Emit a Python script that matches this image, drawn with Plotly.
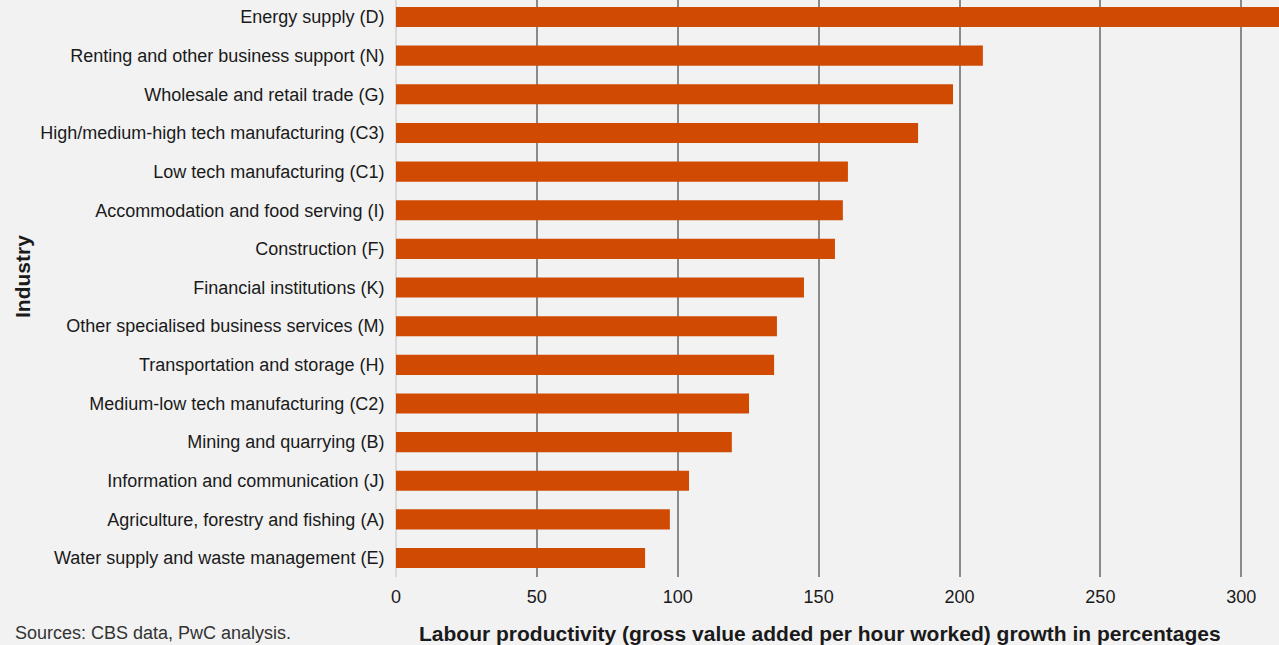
import plotly.graph_objects as go

# Industries, top to bottom
industries = [
    "Energy supply (D)",
    "Renting and other business support (N)",
    "Wholesale and retail trade (G)",
    "High/medium-high tech manufacturing (C3)",
    "Low tech manufacturing (C1)",
    "Accommodation and food serving (I)",
    "Construction (F)",
    "Financial institutions (K)",
    "Other specialised business services (M)",
    "Transportation and storage (H)",
    "Medium-low tech manufacturing (C2)",
    "Mining and quarrying (B)",
    "Information and communication (J)",
    "Agriculture, forestry and fishing (A)",
    "Water supply and waste management (E)",
]

# Labour productivity growth (%)
growth = [330, 208.3, 197.7, 185.3, 160.4, 158.6, 155.8, 144.8,
          135.2, 134.2, 125.3, 119.2, 104.0, 97.2, 88.4]

x_ticks = [0, 50, 100, 150, 200, 250, 300]

BG = "#F2F2F2"
ORANGE = "#D04A02"
TEXT = "#1a1a1a"
FONT = "Liberation Sans, Arial, Helvetica, sans-serif"

fig = go.Figure(
    go.Bar(
        x=growth,
        y=industries,
        orientation="h",
        marker=dict(color=ORANGE, line=dict(width=0)),
        hoverinfo="x+y",
    )
)

fig.update_layout(
    width=1279,
    height=645,
    paper_bgcolor=BG,
    plot_bgcolor=BG,
    margin=dict(l=396, r=0, t=0, b=68),
    bargap=0.48,
    showlegend=False,
    font=dict(family=FONT, size=18, color=TEXT),
    xaxis=dict(
        range=[0, 313.4],
        tickvals=x_ticks,
        showgrid=True,
        gridcolor="#8a8a8a",
        gridwidth=1.5,
        zeroline=True,
        zerolinecolor="#d9d9d9",
        zerolinewidth=2,
        showline=False,
        ticks="outside",
        ticklen=3,
        tickcolor=BG,
        tickfont=dict(size=18, color=TEXT),
        fixedrange=True,
    ),
    yaxis=dict(
        type="category",
        categoryorder="array",
        categoryarray=industries,
        range=[14.49, -0.44],
        showgrid=False,
        zeroline=False,
        showline=False,
        ticks="outside",
        ticklen=7,
        tickcolor=BG,
        tickfont=dict(size=18, color=TEXT),
        fixedrange=True,
    ),
    annotations=[
        dict(
            text="<b>Labour productivity (gross value added per hour worked) growth in percentages</b>",
            xref="paper", yref="paper",
            x=(820 - 396) / (1279 - 396), y=-(633 - 577) / 577,
            xanchor="center", yanchor="middle",
            showarrow=False,
            font=dict(size=21, color=TEXT, family=FONT),
        ),
        dict(
            text="<b>Industry</b>",
            xref="paper", yref="paper",
            x=-(396 - 23) / (1279 - 396), y=(577 - 277) / 577,
            xanchor="center", yanchor="middle",
            textangle=-90,
            showarrow=False,
            font=dict(size=21, color=TEXT, family=FONT),
        ),
        dict(
            text="Sources: CBS data, PwC analysis.",
            xref="paper", yref="paper",
            x=-(396 - 13) / (1279 - 396), y=-(633 - 577) / 577,
            xanchor="left", yanchor="middle",
            showarrow=False,
            font=dict(size=18, color="#333333", family=FONT),
        ),
    ],
)

fig.write_html("out.html")
